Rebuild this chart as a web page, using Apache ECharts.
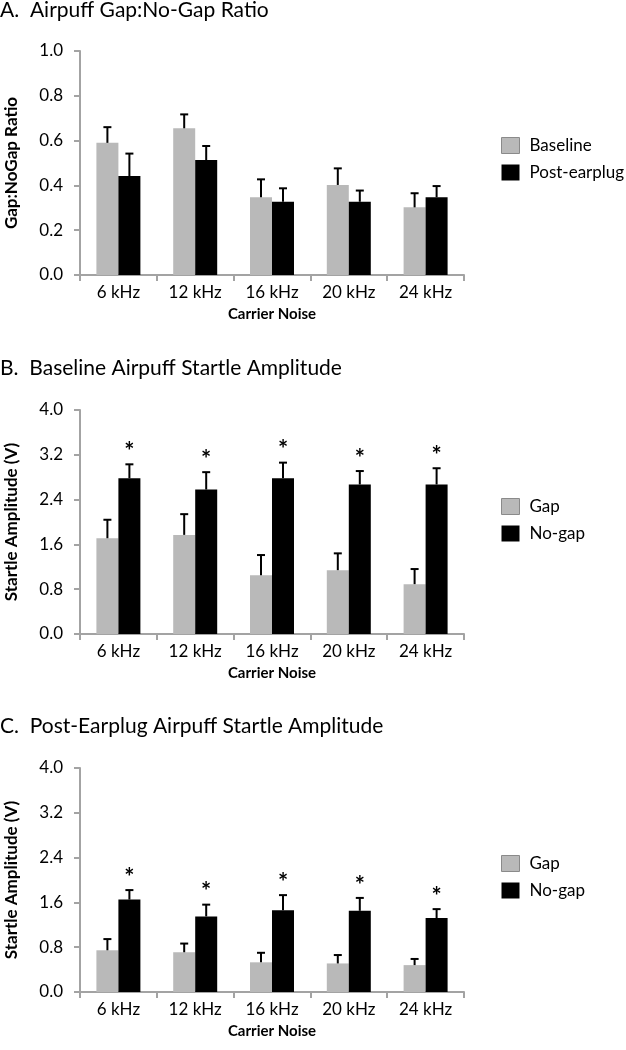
<!DOCTYPE html>
<html><head><meta charset="utf-8">
<script src="https://cdn.jsdelivr.net/npm/echarts@6/dist/echarts.min.js"></script>
<style>html,body{margin:0;padding:0;background:#fff}#c{width:626px;height:1050px}</style>
</head><body><div id="c"></div>
<script>
const categories = ['6 kHz', '12 kHz', '16 kHz', '20 kHz', '24 kHz'];
const ratioTicks = [0.0, 0.2, 0.4, 0.6, 0.8, 1.0];
const ampTicks = [0.0, 0.8, 1.6, 2.4, 3.2, 4.0];

const ratioBaseline = [0.59, 0.655, 0.347, 0.402, 0.302];
const ratioBaselineErr = [0.07, 0.062, 0.08, 0.074, 0.063];
const ratioPost = [0.442, 0.513, 0.327, 0.327, 0.347];
const ratioPostErr = [0.10, 0.063, 0.06, 0.05, 0.05];

const baseGap = [1.71, 1.77, 1.05, 1.14, 0.89];
const baseGapErr = [0.33, 0.37, 0.36, 0.30, 0.27];
const baseNoGap = [2.78, 2.58, 2.78, 2.67, 2.67];
const baseNoGapErr = [0.25, 0.31, 0.28, 0.24, 0.29];
const baseNoGapSig = ['*', '*', '*', '*', '*'];

const postGap = [0.745, 0.71, 0.53, 0.51, 0.48];
const postGapErr = [0.20, 0.155, 0.17, 0.15, 0.11];
const postNoGap = [1.65, 1.35, 1.46, 1.45, 1.32];
const postNoGapErr = [0.17, 0.21, 0.27, 0.23, 0.16];
const postNoGapSig = ['*', '*', '*', '*', '*'];

const FONT = 'Lato';
const GRAY = '#b9b9b9';
const AXIS = '#a3a3a3';
const BARW = 22;

const chart = echarts.init(document.getElementById('c'), null, {renderer: 'canvas'});

function errSeries(gi, vals, errs, sig, side) {
  return {
    type: 'custom', xAxisIndex: gi, yAxisIndex: gi, z: 5, silent: true,
    data: vals.map((v, i) => [i, v, errs[i]]),
    renderItem: function (params, api) {
      const i = api.value(0), v = api.value(1), e = api.value(2);
      const s = sig ? sig[i] : '';
      const base = api.coord([i, v]);
      const top = api.coord([i, v + e]);
      const x = base[0] + side * BARW / 2;
      const children = [
        {type: 'line', shape: {x1: x, y1: base[1], x2: x, y2: top[1]}, style: {stroke: '#000', lineWidth: 2}},
        {type: 'line', shape: {x1: x - 4, y1: top[1], x2: x + 4, y2: top[1]}, style: {stroke: '#000', lineWidth: 2}}
      ];
      if (s) {
        children.push({type: 'text', x: x, y: top[1] - 12, style: {text: s, fill: '#000', font: 'bold 24px ' + FONT, align: 'center', verticalAlign: 'middle'}});
      }
      return {type: 'group', children: children};
    }
  };
}

function barSeries(gi, name, vals, color) {
  return {type: 'bar', name: name, xAxisIndex: gi, yAxisIndex: gi, data: vals, barWidth: BARW, barGap: '0%',
    itemStyle: {color: color}, silent: true, animation: false};
}

const grids = [{top: 51, h: 224}, {top: 410, h: 224}, {top: 768, h: 224}];
const yNames = ['Gap:NoGap Ratio', 'Startle Amplitude (V)', 'Startle Amplitude (V)'];
const yTicks = [ratioTicks, ampTicks, ampTicks];

const option = {
  animation: false,
  textStyle: {fontFamily: FONT},
  title: [
    {text: 'A.  Airpuff Gap:No-Gap Ratio', left: 0, top: 0},
    {text: 'B.  Baseline Airpuff Startle Amplitude', left: 0, top: 358},
    {text: 'C.  Post-Earplug Airpuff Startle Amplitude', left: 0, top: 716}
  ].map(t => Object.assign(t, {padding: 0, textStyle: {fontFamily: FONT, fontSize: 21, fontWeight: 'normal', color: '#000'}})),
  legend: [
    {data: [{name: 'Baseline', itemStyle: {borderColor: '#8a8a8a', borderWidth: 1}}, 'Post-earplug'], left: 501, top: 137},
    {data: [{name: 'Gap', itemStyle: {borderColor: '#8a8a8a', borderWidth: 1}}, 'No-gap'], left: 501, top: 498},
    {data: [{name: 'Gap', itemStyle: {borderColor: '#8a8a8a', borderWidth: 1}}, 'No-gap'], left: 501, top: 855}
  ].map(l => Object.assign(l, {orient: 'vertical', icon: 'rect', itemWidth: 18, itemHeight: 16, itemGap: 10, padding: 0,
    selectedMode: false, textStyle: {fontFamily: FONT, fontSize: 17, color: '#000', padding: [0, 0, 0, 5]}})),
  grid: grids.map(g => ({left: 80, width: 384, top: g.top, height: g.h, containLabel: false, outerBoundsMode: 'none'})),
  xAxis: grids.map((g, gi) => ({
    type: 'category', gridIndex: gi, data: categories,
    name: 'Carrier Noise', nameLocation: 'middle', nameGap: 32,
    nameTextStyle: {fontFamily: FONT, fontSize: 15, fontWeight: 'bold', color: '#000'},
    axisLine: {lineStyle: {color: AXIS, width: 2}},
    axisTick: {show: true, length: 6, lineStyle: {color: AXIS, width: 2}},
    axisLabel: {fontFamily: FONT, fontSize: 17, color: '#000', margin: 9}
  })),
  yAxis: grids.map((g, gi) => ({
    type: 'value', gridIndex: gi, min: yTicks[gi][0], max: yTicks[gi][yTicks[gi].length - 1],
    interval: yTicks[gi][1] - yTicks[gi][0],
    name: yNames[gi], nameLocation: 'middle', nameGap: 60, nameRotate: 90,
    nameTextStyle: {fontFamily: FONT, fontSize: 17, fontWeight: 'bold', color: '#000'},
    axisLine: {show: true, lineStyle: {color: AXIS, width: 2}},
    axisTick: {show: true, length: 6, lineStyle: {color: AXIS, width: 2}},
    splitLine: {show: false},
    axisLabel: {fontFamily: FONT, fontSize: 17, color: '#000', margin: 17, formatter: v => v.toFixed(1)}
  })),
  series: [
    barSeries(0, 'Baseline', ratioBaseline, GRAY),
    barSeries(0, 'Post-earplug', ratioPost, '#000'),
    errSeries(0, ratioBaseline, ratioBaselineErr, null, -1),
    errSeries(0, ratioPost, ratioPostErr, null, 1),
    barSeries(1, 'Gap', baseGap, GRAY),
    barSeries(1, 'No-gap', baseNoGap, '#000'),
    errSeries(1, baseGap, baseGapErr, null, -1),
    errSeries(1, baseNoGap, baseNoGapErr, baseNoGapSig, 1),
    barSeries(2, 'Gap', postGap, GRAY),
    barSeries(2, 'No-gap', postNoGap, '#000'),
    errSeries(2, postGap, postGapErr, null, -1),
    errSeries(2, postNoGap, postNoGapErr, postNoGapSig, 1)
  ]
};
chart.setOption(option);
</script></body></html>
